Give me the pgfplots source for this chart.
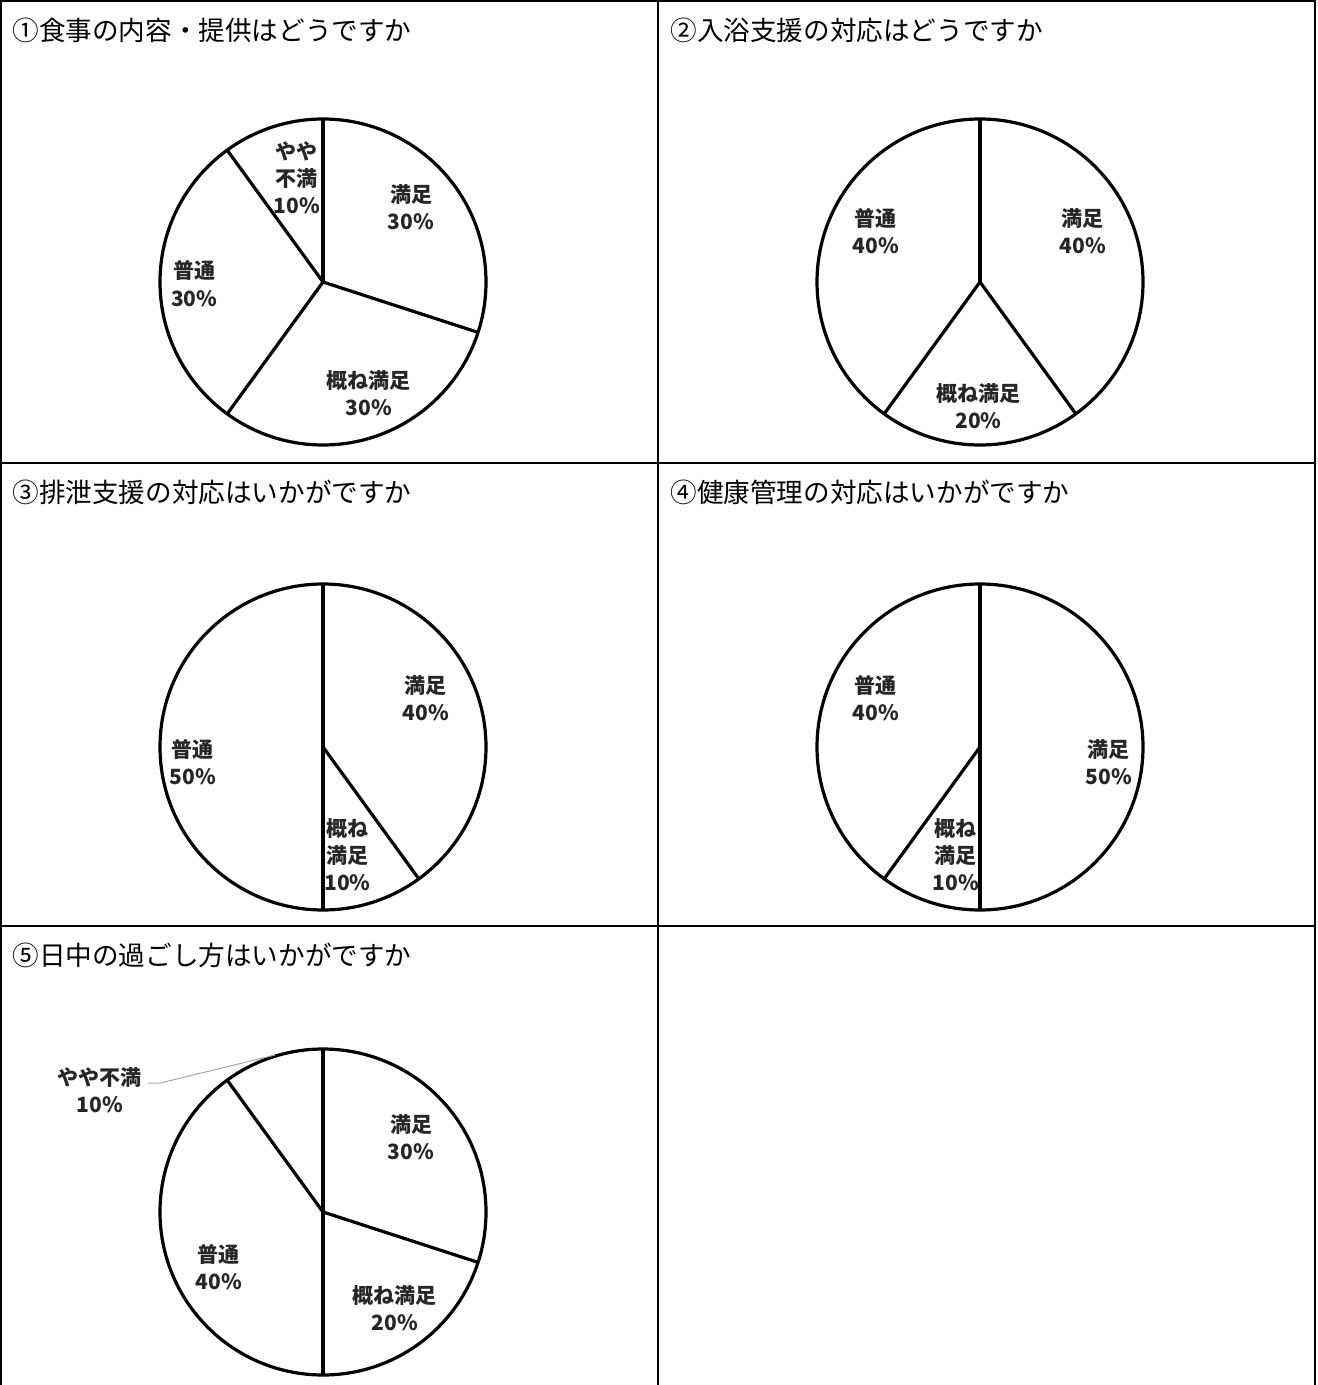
\documentclass[border=0pt]{standalone}
\usepackage{pgfplots}
\pgfplotsset{compat=1.18}
\usepackage{pgfplotstable}
\usepackage{fontspec}
\setmainfont{Noto Sans CJK JP}
\newfontfamily\cjk{Noto Sans CJK JP}

% slices clockwise from 12 o'clock: pct, label position (axis units), name
\pgfplotstableread{
pct lx ly name
30 0.54 0.46 満足
30 0.28 -0.68 概ね満足
30 -0.79 -0.01 普通
10 -0.16 0.64 {やや\\不満}
}\pieA
\pgfplotstableread{
pct lx ly name
40 0.63 0.31 満足
20 -0.01 -0.76 概ね満足
40 -0.64 0.31 普通
}\pieB
\pgfplotstableread{
pct lx ly name
40 0.63 0.30 満足
10 0.15 -0.66 {概ね\\満足}
50 -0.80 -0.09 普通
}\pieC
\pgfplotstableread{
pct lx ly name
50 0.79 -0.09 満足
10 -0.15 -0.66 {概ね\\満足}
40 -0.64 0.30 普通
}\pieD
\pgfplotstableread{
pct lx ly name
30 0.54 0.46 満足
20 0.44 -0.59 概ね満足
40 -0.64 -0.34 普通
10 -1.37 0.75 やや不満
}\pieE

\pgfplotsset{pie/.style={width=163pt,height=163pt,scale only axis,
  xmin=-1,xmax=1,ymin=-1,ymax=1,hide axis,clip=false,anchor=center}}
\tikzset{lbl/.style={align=center,text=black!85,inner sep=0pt,
  font=\cjk\bfseries\fontsize{10.5pt}{13.5pt}\selectfont},
  ttl/.style={anchor=west,inner sep=0pt,font=\cjk\fontsize{13.3pt}{16pt}\selectfont}}

\newcommand\piedraw[1]{%
  \pgfplotsextra{%
    \draw[line width=1.6pt] (axis cs:0,0) circle[radius=1];
    \pgfplotstablegetrowsof{#1}%
    \pgfmathtruncatemacro\lastrow{\pgfplotsretval-1}%
    \gdef\pieacc{0}%
    \foreach \i in {0,...,\lastrow}{%
      \pgfplotstablegetelem{\i}{pct}\of{#1}\let\pct\pgfplotsretval
      \pgfplotstablegetelem{\i}{lx}\of{#1}\let\lx\pgfplotsretval
      \pgfplotstablegetelem{\i}{ly}\of{#1}\let\ly\pgfplotsretval
      \pgfplotstablegetelem{\i}{name}\of{#1}\let\nm\pgfplotsretval
      \pgfmathsetmacro\ang{3.6*\pieacc}%
      \draw[line width=1.6pt] (axis cs:0,0) -- (axis cs:{sin(\ang)},{cos(\ang)});
      \node[lbl] at (axis cs:\lx,\ly) {\nm\\\pct\%};
      \pgfmathsetmacro\tmp{\pieacc+\pct}\global\let\pieacc\tmp
    }%
  }%
}

\begin{document}
\begin{tikzpicture}
\begin{scope}[x=0.5pt,y=-0.5pt]
\path[use as bounding box] (0,0) rectangle (1317,1385);
% table grid
\draw[line width=1pt] (1,1385) -- (1,1) -- (1315,1) -- (1315,1385);
\draw[line width=1pt] (658,0) -- (658,1385);
\draw[line width=1pt] (0,463) -- (1316,463);
\draw[line width=1pt] (0,926) -- (1316,926);

\node[ttl] at (12,30) {①食事の内容・提供はどうですか};
\node[ttl] at (670,30) {②入浴支援の対応はどうですか};
\node[ttl] at (12,492) {③排泄支援の対応はいかがですか};
\node[ttl] at (670,492) {④健康管理の対応はいかがですか};
\node[ttl] at (12,955) {⑤日中の過ごし方はいかがですか};

\coordinate (cA) at (323,282);
\coordinate (cB) at (980,282);
\coordinate (cC) at (323,747);
\coordinate (cD) at (980,747);
\coordinate (cE) at (323,1212);
\end{scope}

\begin{axis}[pie,at={(cA)}]
  \piedraw{\pieA}
\end{axis}
\begin{axis}[pie,at={(cB)}]
  \piedraw{\pieB}
\end{axis}
\begin{axis}[pie,at={(cC)}]
  \piedraw{\pieC}
\end{axis}
\begin{axis}[pie,at={(cD)}]
  \piedraw{\pieD}
\end{axis}
\begin{axis}[pie,at={(cE)}]
  \piedraw{\pieE}
  \draw[gray!70,line width=0.5pt] (axis cs:-1.074,0.791) -- (axis cs:-1.0,0.791) -- (axis cs:-0.294,0.963);
\end{axis}
\end{tikzpicture}
\end{document}
